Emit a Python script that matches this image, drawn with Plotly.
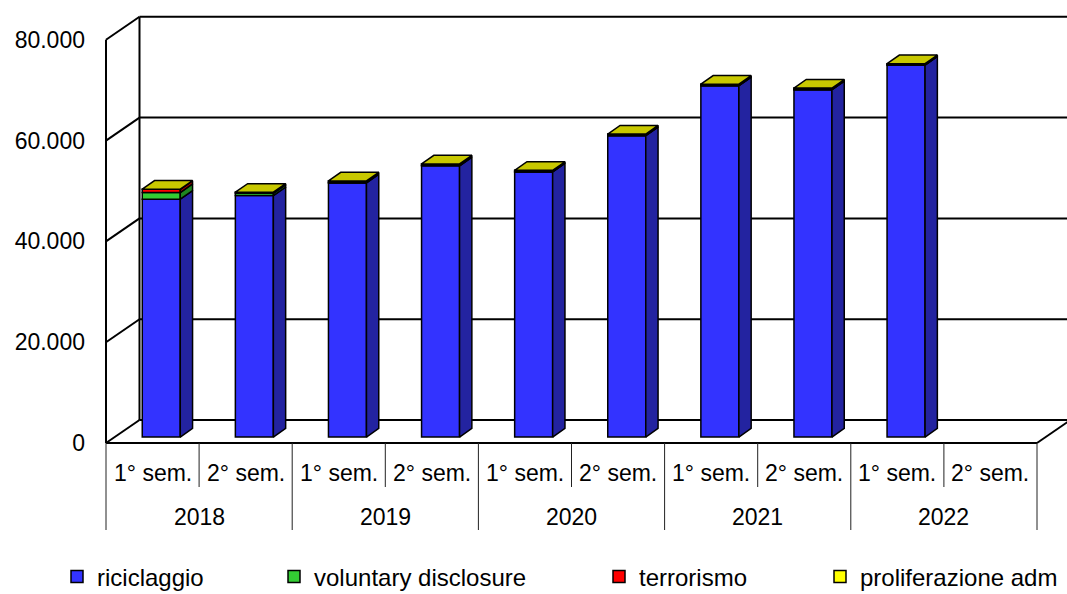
import plotly.graph_objects as go

# ---------------- data ----------------
years = ["2018", "2019", "2020", "2021", "2022"]
semesters = ["1° sem.", "2° sem."]
riciclaggio = [47200, 47900, 50400, 53800, 52600, 59800, 69700, 68900, 73800, None]
voluntary_disclosure = [1300, 450, 100, 60, 40, 30, 20, 20, 20, None]
terrorismo = [650, 200, 300, 300, 250, 250, 250, 270, 230, None]
proliferazione_adm = [20, 20, 20, 30, 20, 30, 30, 40, 30, None]
y_ticks = [0, 20000, 40000, 60000, 80000]
y_ticktext = ["0", "20.000", "40.000", "60.000", "80.000"]

# ---------------- geometry / style ----------------
W, H = 1067, 594
L_MARGIN = 86
PX_X = 93.1            # pixels per category slot
PX_Y = 5.04 / 1000     # pixels per unit value
X0_PX, Y0_PX = 106, 443  # front-left-bottom corner of the floor
DX_WALL = 33.5 / PX_X
DY_WALL = 23 / PX_Y
F_FRONT = 0.26
FX, FY = F_FRONT * DX_WALL, F_FRONT * DY_WALL
DDX, DDY = 12.3 / PX_X, 8.6 / PX_Y
BAR_W = 38 / PX_X
FONT = "Liberation Sans, Arial, sans-serif"

n = len(years) * len(semesters)
centers = [i + 0.5 for i in range(n)]

series = [
    ("riciclaggio", riciclaggio, "#3333FF", "#2323A0", "legend"),
    ("voluntary disclosure", voluntary_disclosure, "#33CC33", "#1F861F", "legend2"),
    ("terrorismo", terrorismo, "#FF0000", "#A00000", "legend3"),
    ("proliferazione adm", proliferazione_adm, "#FFFF00", "#A8A800", "legend4"),
]
TOP_COLOR = "#C8C800"

fig = go.Figure()

cum = [0.0] * n
side_polys = []
for name, vals, col, side_col, lg in series:
    xs, ys, bases = [], [], []
    sx, sy = [], []
    for i, v in enumerate(vals):
        if v is None:
            continue
        b = FY + cum[i]
        xs.append(centers[i] + FX)
        ys.append(v)
        bases.append(b)
        xr = centers[i] + FX + BAR_W / 2
        t = b + v
        sx += [xr, xr + DDX, xr + DDX, xr, xr, None]
        sy += [b, b + DDY, t + DDY, t, b, None]
        cum[i] += v
    fig.add_trace(go.Bar(
        x=xs, y=ys, base=bases, width=BAR_W, name=name,
        marker=dict(color=col, line=dict(color="black", width=1.5)),
        legend=lg, hoverinfo="skip",
    ))
    side_polys.append((sx, sy, side_col))

for sx, sy, sc in side_polys:
    fig.add_trace(go.Scatter(
        x=sx, y=sy, mode="lines", fill="toself", fillcolor=sc,
        line=dict(color="black", width=1.5), showlegend=False, hoverinfo="skip",
    ))

# top faces
tx, ty = [], []
for i in range(n):
    if riciclaggio[i] is None:
        continue
    T = FY + cum[i]
    xl = centers[i] + FX - BAR_W / 2
    xr = centers[i] + FX + BAR_W / 2
    tx += [xl, xl + DDX, xr + DDX, xr, xl, None]
    ty += [T, T + DDY, T + DDY, T, T, None]
fig.add_trace(go.Scatter(
    x=tx, y=ty, mode="lines", fill="toself", fillcolor=TOP_COLOR,
    line=dict(color="black", width=1.5), showlegend=False, hoverinfo="skip",
))

# ---------------- walls / floor ----------------
x_min = -(X0_PX - L_MARGIN) / PX_X
x_max = (W - X0_PX) / PX_X
y_min = -(H - Y0_PX) / PX_Y
y_max = Y0_PX / PX_Y
ymax_val = y_ticks[-1]

shapes = []
def ln(x0, y0, x1, y1, w=2, c="black"):
    shapes.append(dict(type="line", xref="x", yref="y", x0=x0, y0=y0, x1=x1, y1=y1,
                       line=dict(color=c, width=w), layer="below"))

# left wall
ln(0, 0, 0, ymax_val)
ln(DX_WALL, DY_WALL, DX_WALL, ymax_val + DY_WALL)
for v in y_ticks:
    ln(0, v, DX_WALL, v + DY_WALL)
    ln(DX_WALL, v + DY_WALL, x_max + 1, v + DY_WALL)
# floor
ln(0, 0, n, 0)
ln(n, 0, n + DX_WALL, DY_WALL)

# category separators
short_end = -(487 - Y0_PX) / PX_Y
long_end = -(530 - Y0_PX) / PX_Y
for k in range(n + 1):
    ln(k, 0, k, long_end if k % 2 == 0 else short_end, w=1, c="#222")

# ---------------- labels ----------------
ann = []
sem_y = -(473 - Y0_PX) / PX_Y
yr_y = -(517 - Y0_PX) / PX_Y
for i in range(n):
    ann.append(dict(x=centers[i], y=sem_y, xref="x", yref="y", text=semesters[i % 2],
                    showarrow=False, font=dict(size=23, color="black", family=FONT)))
for j, yr in enumerate(years):
    ann.append(dict(x=2 * j + 1, y=yr_y, xref="x", yref="y", text=yr,
                    showarrow=False, font=dict(size=23, color="black", family=FONT)))

def legend_at(px):
    return dict(x=px / W, y=(H - 577) / H, xref="container", yref="container",
                xanchor="left", yanchor="middle", orientation="h",
                bgcolor="rgba(0,0,0,0)",
                font=dict(size=24, color="black", family=FONT), itemwidth=30)

fig.update_layout(
    width=W, height=H,
    margin=dict(l=L_MARGIN, r=0, t=0, b=0, autoexpand=False),
    paper_bgcolor="white", plot_bgcolor="white",
    barmode="overlay",
    xaxis=dict(range=[x_min, x_max], visible=False, fixedrange=True, automargin=False),
    yaxis=dict(range=[y_min, y_max], tickvals=y_ticks, ticktext=y_ticktext,
               showgrid=False, zeroline=False, showline=False, ticks="", automargin=False,
               tickfont=dict(size=23, color="black", family=FONT), fixedrange=True),
    shapes=shapes, annotations=ann,
    legend=legend_at(57), legend2=legend_at(274), legend3=legend_at(599), legend4=legend_at(820),
    font=dict(family=FONT),
)

fig.write_html(
    "out.html",
    config={"displayModeBar": False},
    post_script="document.body.style.margin='0';document.body.style.overflow='hidden';",
)
